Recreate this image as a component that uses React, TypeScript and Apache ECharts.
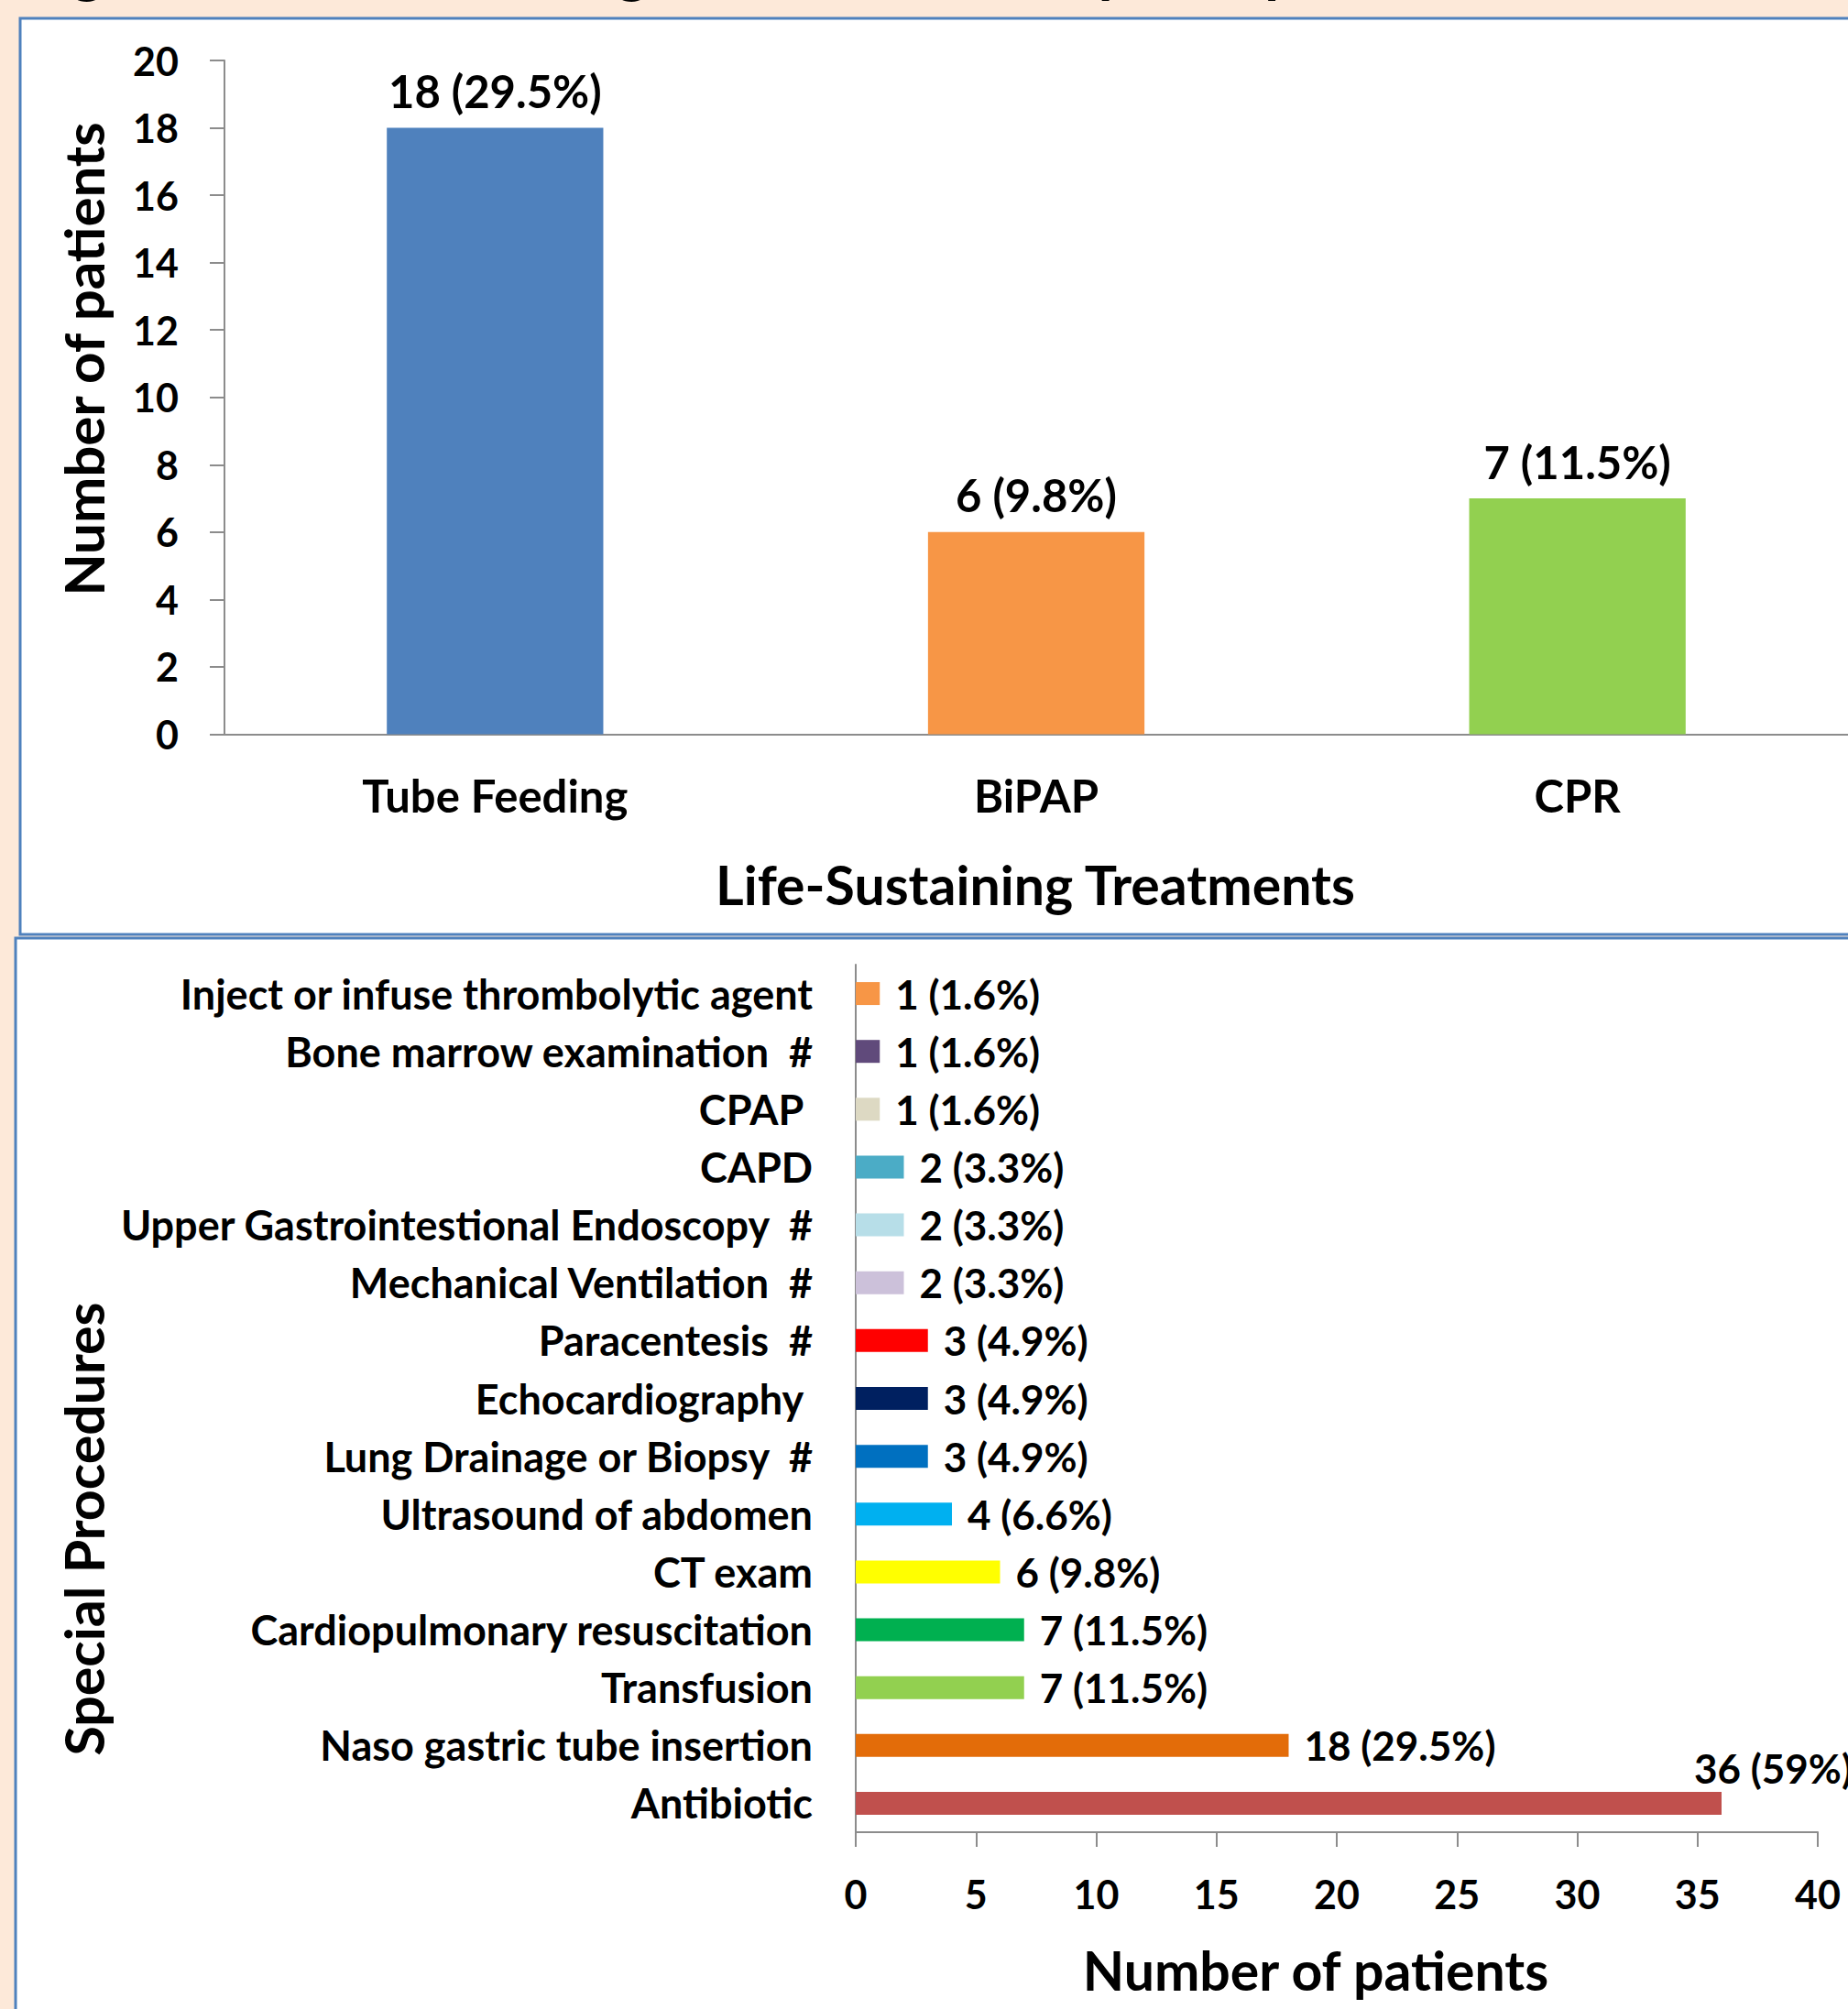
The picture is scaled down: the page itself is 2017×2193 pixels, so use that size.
import React, { useEffect, useRef } from "react";
import * as echarts from "echarts";

// ---- Top chart data: Life-Sustaining Treatments ----
const lstCategories = ["Tube Feeding", "BiPAP", "CPR"];
const lstValues = [18, 6, 7];
const lstPercents = ["29.5", "9.8", "11.5"];
const lstColors = ["#4F81BD", "#F79646", "#92D050"];

// ---- Bottom chart data: Special Procedures (top to bottom) ----
const procCategories = [
  "Inject or infuse thrombolytic agent",
  "Bone marrow examination\u00a0\u00a0#",
  "CPAP\u00a0",
  "CAPD",
  "Upper Gastrointestional Endoscopy\u00a0\u00a0#",
  "Mechanical Ventilation\u00a0\u00a0#",
  "Paracentesis\u00a0\u00a0#",
  "Echocardiography\u00a0",
  "Lung Drainage or Biopsy\u00a0\u00a0#",
  "Ultrasound of abdomen",
  "CT exam",
  "Cardiopulmonary resuscitation",
  "Transfusion",
  "Naso gastric tube insertion",
  "Antibiotic",
];
const procValues = [1, 1, 1, 2, 2, 2, 3, 3, 3, 4, 6, 7, 7, 18, 36];
const procPercents = ["1.6", "1.6", "1.6", "3.3", "3.3", "3.3", "4.9", "4.9", "4.9", "6.6", "9.8", "11.5", "11.5", "29.5", "59"];
const procColors = [
  "#F79646", "#604A7B", "#DDD9C3", "#4BACC6", "#B7DEE8", "#CCC1DA", "#FF0000",
  "#002060", "#0070C0", "#00B0F0", "#FFFF00", "#00B050", "#92D050", "#E36C09", "#C0504D",
];

const titleText = "Figure 3: Life-sustaining treatments and special procedures";

const FONT = "Lato";
const AXIS_GREY = "#8C8C8C";

export default function App() {
  const ref = useRef<HTMLDivElement>(null);

  useEffect(() => {
    document.body.style.margin = "0";
    document.body.style.overflow = "hidden";
    const chart = echarts.init(ref.current!, null, { renderer: "svg" });

    const txt = (size: number) => ({ fontFamily: FONT, fontWeight: "bold", fontSize: size, color: "#000" });

    const option: any = {
      animation: false,
      backgroundColor: "#FDE9D9",
      graphic: [
        {
          type: "rect", z: -10, silent: true,
          shape: { x: 22, y: 20, width: 2100, height: 1000 },
          style: { fill: "#FFFFFF", stroke: "#4F81BD", lineWidth: 3 },
        },
        {
          type: "rect", z: -10, silent: true,
          shape: { x: 17, y: 1024, width: 2100, height: 1300 },
          style: { fill: "#FFFFFF", stroke: "#4F81BD", lineWidth: 3 },
        },
        {
          type: "text", z: 50, x: 26, y: -2,
          style: { text: titleText, ...txt(64), fill: "#000", textVerticalAlign: "bottom" },
        },
        {
          type: "text", z: 50, x: 91, y: 392, rotation: Math.PI / 2,
          style: { text: "Number of patients", ...txt(60), fill: "#000", textAlign: "center", textVerticalAlign: "middle" },
        },
        {
          type: "text", z: 50, x: 1130, y: 965,
          style: { text: "Life-Sustaining Treatments", ...txt(59), fill: "#000", textAlign: "center", textVerticalAlign: "middle" },
        },
        {
          type: "text", z: 50, x: 91, y: 1669, rotation: Math.PI / 2,
          style: { text: "Special Procedures", ...txt(59), fill: "#000", textAlign: "center", textVerticalAlign: "middle" },
        },
        {
          type: "text", z: 50, x: 1436, y: 2150,
          style: { text: "Number of patients", ...txt(59), fill: "#000", textAlign: "center", textVerticalAlign: "middle" },
        },
      ],
      grid: [
        { left: 245, top: 66, right: 0, height: 735.5 },
        { left: 934, top: 1053, right: 33, height: 947 },
      ],
      xAxis: [
        {
          gridIndex: 0, type: "category", data: lstCategories,
          axisLine: { lineStyle: { color: AXIS_GREY, width: 2 } },
          axisTick: { show: false },
          axisLabel: { ...txt(49), margin: 42 },
        },
        {
          gridIndex: 1, type: "value", min: 0, max: 40, interval: 5,
          axisLine: { show: true, lineStyle: { color: AXIS_GREY, width: 2 } },
          axisTick: { show: true, inside: false, length: 16, lineStyle: { color: AXIS_GREY, width: 2 } },
          splitLine: { show: false },
          axisLabel: { ...txt(43), margin: 46 },
        },
      ],
      yAxis: [
        {
          gridIndex: 0, type: "value", min: 0, max: 20, interval: 2,
          axisLine: { show: true, lineStyle: { color: AXIS_GREY, width: 2 } },
          axisTick: { show: true, inside: false, length: 16, lineStyle: { color: AXIS_GREY, width: 2 } },
          splitLine: { show: false },
          axisLabel: { ...txt(43), margin: 50 },
        },
        {
          gridIndex: 1, type: "category", data: procCategories, inverse: true,
          axisLine: { show: true, lineStyle: { color: AXIS_GREY, width: 2 } },
          axisTick: { show: false },
          axisLabel: { ...txt(45), margin: 47 },
        },
      ],
      series: [
        {
          type: "bar", xAxisIndex: 0, yAxisIndex: 0, barWidth: "40%",
          data: lstValues.map((v, i) => ({ value: v, itemStyle: { color: lstColors[i] } })),
          label: {
            show: true, position: "top", distance: 16, ...txt(49),
            formatter: (p: any) => `${p.value} (${lstPercents[p.dataIndex]}%)`,
          },
        },
        {
          type: "bar", xAxisIndex: 1, yAxisIndex: 1, barWidth: 25,
          data: procValues.map((v, i) => {
            const item: any = { value: v, itemStyle: { color: procColors[i] } };
            if (i === procValues.length - 1) {
              item.label = { position: "right", offset: [-47, -38] };
            }
            return item;
          }),
          label: {
            show: true, position: "right", distance: 17, ...txt(44),
            formatter: (p: any) => `${p.value} (${procPercents[p.dataIndex]}%)`,
          },
        },
      ],
    };

    chart.setOption(option);
    return () => chart.dispose();
  }, []);

  return <div ref={ref} style={{ width: 2017, height: 2193, position: "absolute", left: 0, top: 0 }} />;
}
